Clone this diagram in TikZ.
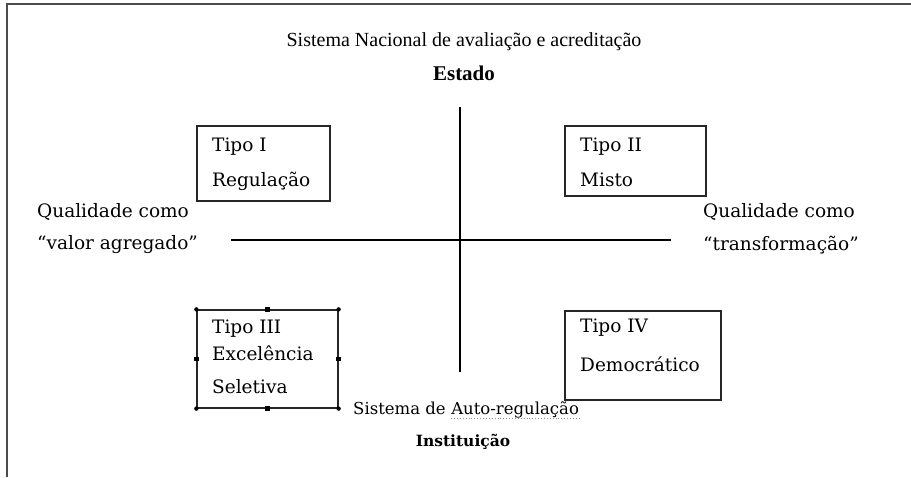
\documentclass[tikz,border=0pt]{standalone}
\usepackage{fontspec}
\setmainfont{DejaVu Serif}
\newfontfamily\titlefont{Liberation Serif}
\begin{document}
\begin{tikzpicture}[x=1pt,y=-1pt,
  frame/.style={draw=black!70,line width=2pt},
  axis/.style={draw=black,line width=1.6pt},
  box/.style={draw=black!85,line width=1.4pt,minimum width=#1,inner sep=0pt},
  lbl/.style={anchor=west,inner sep=0pt,font=\fontsize{18.5}{22}\selectfont},
  ttl/.style={inner sep=0pt,font=\titlefont\fontsize{20}{24}\selectfont},
  handle/.style={fill=black,inner sep=0pt,minimum size=4.5pt}
]
\useasboundingbox (0,0) rectangle (911,477);
% frame
\coordinate (f0) at (7,4);
\coordinate (f1) at (911,4);
\coordinate (f2) at (7,477);
\draw[frame] (f1) -- (f0) -- (f2);
% titles
\node[ttl] (sn) at (464,42) {Sistema Nacional de avaliação e acreditação};
\node[ttl,font=\titlefont\bfseries\fontsize{21}{24}\selectfont] (est) at (464,73) {Estado};
% axes
\coordinate (vt) at (460,107);
\coordinate (vb) at (460,372);
\coordinate (hl) at (231,240);
\coordinate (hr) at (671,240);
\draw[axis] (vt) -- (vb);
\draw[axis] (hl) -- (hr);
% boxes
\node[box=133pt,minimum height=75pt] (b1) at (263.5,163.5) {};
\node[box=141pt,minimum height=70pt] (b2) at (635.5,161) {};
\node[box=141pt,minimum height=98pt,line width=1.2pt] (b3) at (267.5,359) {};
\node[box=156pt,minimum height=89pt] (b4) at (643,355.5) {};
% handles on box III
\foreach \a in {north west,north east,south west,south east}
  \fill (b3.\a) circle (2.2pt);
\foreach \a in {north,south,east,west}
  \node[handle] at (b3.\a) {};
% box texts
\node[lbl] (t1a) at (212,147) {Tipo I};
\node[lbl] (t1b) at (212,181) {Regulação};
\node[lbl] (t2a) at (580,147) {Tipo II};
\node[lbl] (t2b) at (580,180) {Misto};
\node[lbl] (t3a) at (212,329) {Tipo III};
\node[lbl] (t3b) at (212,353) {Excelência};
\node[lbl] (t3c) at (212,387) {Seletiva};
\node[lbl] (t4a) at (580,328) {Tipo IV};
\node[lbl] (t4b) at (580,364) {Democrático};
% side labels
\node[lbl] (ql) at (37,212) {Qualidade como};
\node[lbl] (vl) at (37,245) {“valor agregado”};
\node[lbl] (qr) at (703,212) {Qualidade como};
\node[lbl] (tr) at (703,245) {“transformação”};
% bottom
\node[lbl,anchor=base west,font=\fontsize{16.5}{20}\selectfont] (sa1) at (353,414) {Sistema de};
\node[lbl,anchor=base west,font=\fontsize{16.5}{20}\selectfont] (sa2) at ([xshift=5.2pt]sa1.base east) {Auto-regulação};
\draw[black!45,line width=0.9pt,dotted] ([yshift=-4pt]sa2.base west) -- ([yshift=-4pt]sa2.base east);
\node[lbl,font=\bfseries\fontsize{15.5}{19}\selectfont,anchor=center] (inst) at (463,442) {Instituição};
\end{tikzpicture}
\end{document}
